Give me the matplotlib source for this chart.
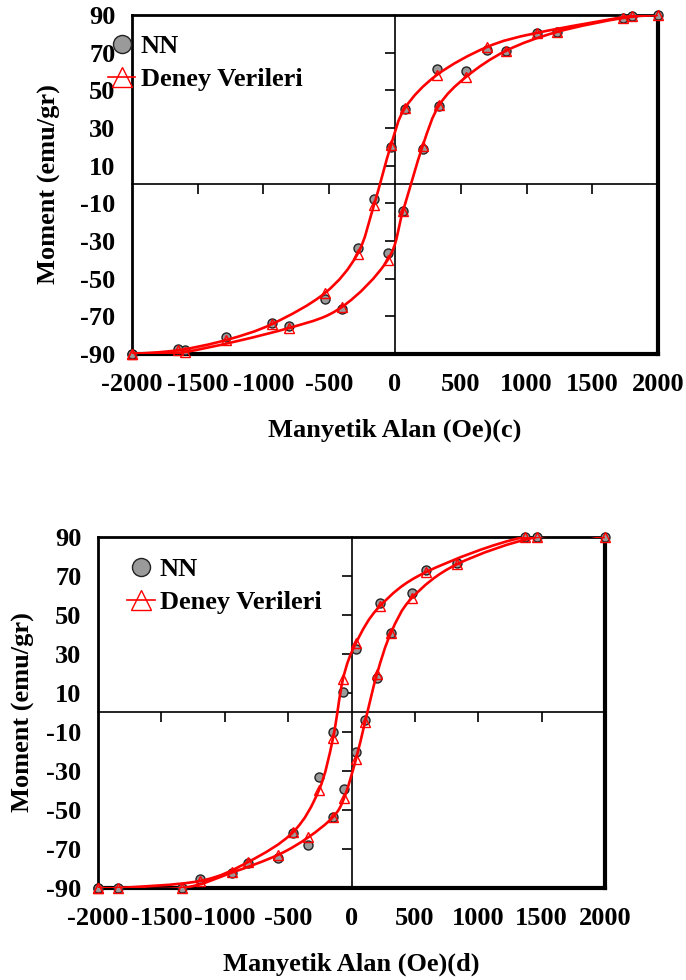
import numpy as np
import matplotlib.pyplot as plt
from matplotlib.path import Path
from matplotlib.patches import PathPatch
from matplotlib.lines import Line2D

plt.rcParams['font.family'] = 'Liberation Serif'
plt.rcParams['font.weight'] = 'bold'
plt.rcParams['axes.unicode_minus'] = False
plt.rcParams['font.size'] = 19

# ---- panel (c) ----
c_up_x = [2000, 1800, 1080, 700, 319, 76, -30, -160, -285, -532, -935, -1285, -1650, -2000]
c_up_deney = [90, 89.5, 80.5, 73, 58.2, 40.6, 21, -10.9, -36.9, -57.6, -74.1, -82.6, -88, -90]
c_up_nn = [90, 89.5, 80.3, 71.4, 61.3, 40, 19.9, -7.7, -33.7, -60.8, -73.6, -81, -87.4, -90]
c_lo_x = [-2000, -1600, -806, -403, -55, 61, 210, 335, 540, 844, 1232, 1730, 2000]
c_lo_deney = [-90, -89, -76.2, -65, -40, -14, 20.4, 42, 57.1, 71, 81, 88.4, 90]
c_lo_nn = [-90, -88, -75, -66, -36.4, -14, 18.8, 41.7, 60.3, 71, 81, 88.4, 90]

# ---- panel (d) ----
d_up_x = [2000, 1368, 588, 225, 35, -67, -146, -256, -460, -816, -1195, -1840, -2000]
d_up_deney = [90, 90, 72, 54.6, 35.6, 17.2, -13.2, -39.7, -61.3, -76.7, -86.4, -90, -90]
d_up_nn = [90, 90, 73, 56.1, 32.6, 10.5, -10, -33, -61.7, -77, -85.4, -90, -90]
d_lo_x = [-2000, -1340, -939, -579, -343, -146, -58, 35, 107, 201, 311, 476, 832, 1467, 2000]
d_lo_deney = [-90, -90, -82, -73, -64.1, -53.6, -43.8, -24, -4.8, 19.7, 40.8, 58.7, 76, 90, 90]
d_lo_nn = [-90, -90, -82.4, -74.6, -68.2, -53.6, -39.3, -20.5, -3.8, 17.7, 40.8, 61.3, 76.6, 90, 90]

xticks = [-2000, -1500, -1000, -500, 0, 500, 1000, 1500, 2000]
yticks = [-90, -70, -50, -30, -10, 10, 30, 50, 70, 90]


def smooth_path(x, y):
    # Excel style smoothed line: cubic bezier through the points
    pts = np.column_stack([x, y]).astype(float)
    n = len(pts)
    verts = [pts[0]]
    codes = [Path.MOVETO]
    for i in range(n - 1):
        p0 = pts[max(i - 1, 0)]
        p1 = pts[i]
        p2 = pts[i + 1]
        p3 = pts[min(i + 2, n - 1)]
        verts += [p1 + (p2 - p0) / 6, p2 - (p3 - p1) / 6, p2]
        codes += [Path.CURVE4] * 3
    return Path(verts, codes)


def panel(fig, rect, lo_x, lo_deney, lo_nn, up_x, up_deney, up_nn,
          xlabel, ylabel_pad, xlabel_pad, leg_anchor):
    # back axes: frame + edge labels
    axb = fig.add_axes(rect)
    axb.set_xlim(-2000, 2000)
    axb.set_ylim(-90, 90)
    axb.set_xticks(xticks)
    axb.set_xticklabels([str(t) for t in xticks])
    axb.set_yticks(yticks)
    axb.set_yticklabels([str(t) for t in yticks])
    axb.tick_params(length=0, pad=12, labelsize=19)
    axb.tick_params(axis='x', pad=14)
    for s in ['left', 'top']:
        axb.spines[s].set_linewidth(2)
    for s in ['right', 'bottom']:
        axb.spines[s].set_linewidth(3)
    axb.set_xlabel(xlabel, fontsize=19, fontweight='bold', labelpad=xlabel_pad)
    axb.set_ylabel('Moment (emu/gr)', fontsize=19, fontweight='bold', labelpad=ylabel_pad)

    # front axes: zero crossing axes + data
    ax = fig.add_axes(rect)
    ax.patch.set_visible(False)
    ax.set_xlim(-2000, 2000)
    ax.set_ylim(-90, 90)
    ax.spines['top'].set_visible(False)
    ax.spines['right'].set_visible(False)
    ax.spines['left'].set_position(('data', 0))
    ax.spines['bottom'].set_position(('data', 0))
    ax.spines['left'].set_linewidth(1.2)
    ax.spines['bottom'].set_linewidth(1.2)
    ax.set_xticks([t for t in xticks if abs(t) not in (0, 2000)])
    ax.set_yticks([t for t in yticks if abs(t) != 90])
    ax.tick_params(direction='out', length=7, width=1.2,
                   labelbottom=False, labelleft=False)

    ax.plot(lo_x + up_x[1:], lo_nn + up_nn[1:], ls='none', marker='o', ms=6.5,
            mfc='#9a9a9a', mec='#222222', mew=1, clip_on=False, zorder=3)
    loop = smooth_path(lo_x + up_x[1:], lo_deney + up_deney[1:])
    ax.add_patch(PathPatch(loop, fc='none', ec='red', lw=1.9, zorder=4))
    ax.plot(lo_x + up_x[1:], lo_deney + up_deney[1:], ls='none', marker='^', ms=7.5,
            mfc='none', mec='red', mew=1, clip_on=False, zorder=5)

    h_nn = Line2D([], [], ls='none', marker='o', ms=6.5, mfc='#9a9a9a', mec='#222222', mew=1)
    h_dn = Line2D([], [], color='red', lw=1.2, marker='^', ms=7, mfc='none', mec='red', mew=1)
    ax.legend([h_nn, h_dn], ['NN', 'Deney Verileri'], loc='upper left',
              bbox_to_anchor=leg_anchor, frameon=False, borderpad=0, borderaxespad=0,
              handlelength=1.05, handletextpad=0.2, labelspacing=0.36, markerscale=2,
              prop={'family': 'Liberation Serif', 'weight': 'bold', 'size': 19})
    return ax


fig = plt.figure(figsize=(6.86, 9.8), dpi=100)

panel(fig, [0.1924, 0.6388, 0.7668, 0.3459], c_lo_x, c_lo_deney, c_lo_nn,
      c_up_x, c_up_deney, c_up_nn, 'Manyetik Alan (Oe)(c)', 14, 16, (-0.046, 0.941))
panel(fig, [0.1429, 0.0939, 0.7390, 0.3582], d_lo_x, d_lo_deney, d_lo_nn,
      d_up_x, d_up_deney, d_up_nn, 'Manyetik Alan (Oe)(d)', 8, 16, (0.057, 0.941))

plt.savefig('out.png', dpi=100)
